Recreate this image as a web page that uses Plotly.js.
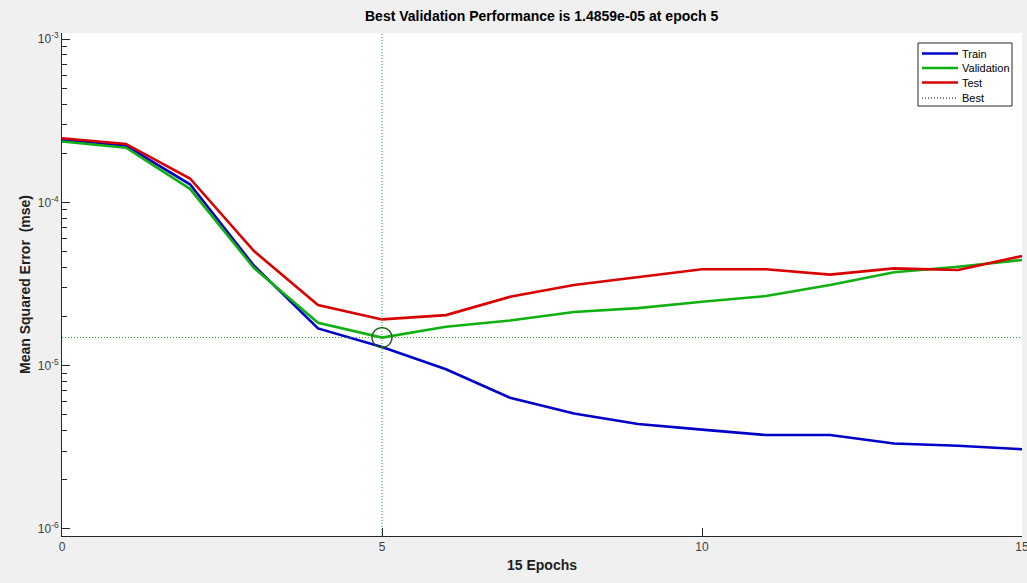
<!DOCTYPE html>
<html>
<head>
<meta charset="utf-8">
<script src="https://cdn.plot.ly/plotly-3.0.1.min.js"></script>
<style>
  html, body { margin: 0; padding: 0; background: #f0f0f0; }
  #chart { width: 1027px; height: 583px; }
</style>
</head>
<body>
<div id="chart"></div>
<script>
// Training record: mean squared error per epoch
const epochs = [0, 1, 2, 3, 4, 5, 6, 7, 8, 9, 10, 11, 12, 13, 14, 15];
const trainPerf = [2.43e-4, 2.22e-4, 1.29e-4, 4.09e-5, 1.69e-5, 1.30e-5, 9.5e-6, 6.36e-6,
                   5.10e-6, 4.39e-6, 4.06e-6, 3.76e-6, 3.76e-6, 3.34e-6, 3.23e-6, 3.08e-6];
const valPerf = [2.36e-4, 2.16e-4, 1.21e-4, 3.96e-5, 1.83e-5, 1.4859e-5, 1.73e-5, 1.89e-5,
                 2.13e-5, 2.25e-5, 2.46e-5, 2.67e-5, 3.12e-5, 3.73e-5, 4.03e-5, 4.44e-5];
const testPerf = [2.47e-4, 2.28e-4, 1.40e-4, 5.03e-5, 2.35e-5, 1.92e-5, 2.04e-5, 2.64e-5,
                  3.12e-5, 3.50e-5, 3.89e-5, 3.89e-5, 3.61e-5, 3.94e-5, 3.85e-5, 4.69e-5];
const bestEpoch = 5;
const bestPerf = 1.4859e-5;
const seriesNames = ['Train', 'Validation', 'Test', 'Best'];
const seriesColors = ['#0000c8', '#10b010', '#d80000', '#000000'];
const xTickVals = [0, 5, 10, 15];
const yDecades = [-6, -5, -4, -3];

const FONT = 'Liberation Sans, Arial, Helvetica, sans-serif';
const AXIS = '#262626';
const BEST_GREEN = '#1ea01e';

// major ticks at each decade, minor ticks at 2..9 within each decade
const yTickVals = yDecades.map(function (d) { return Math.pow(10, d); });
const yTickText = yDecades.map(function (d) { return '10<sup>' + d + '</sup>'; });
const yMinorVals = [];
yDecades.forEach(function (d) {
  for (let m = 2; m <= 9; m++) yMinorVals.push(m * Math.pow(10, d));
});

const perfSeries = [trainPerf, valPerf, testPerf];
const traces = perfSeries.map(function (vals, i) {
  return { x: epochs, y: vals, name: seriesNames[i], mode: 'lines',
           line: { color: seriesColors[i], width: 2.6 }, showlegend: false };
});
// circle marking the best validation point
traces.push({ x: [bestEpoch], y: [bestPerf], mode: 'markers', showlegend: false,
  marker: { symbol: 'circle-open', size: 20, color: '#145c14', line: { width: 1.3, color: '#145c14' } } });

// best-epoch guide lines
const shapes = [
  { type: 'line', xref: 'x', yref: 'paper', x0: bestEpoch, x1: bestEpoch, y0: 0, y1: 1,
    line: { color: BEST_GREEN, width: 1, dash: '1px,2px' } },
  { type: 'line', xref: 'paper', yref: 'y', x0: 0, x1: 1, y0: bestPerf, y1: bestPerf,
    line: { color: BEST_GREEN, width: 1, dash: '1px,2px' } }
];
const annotations = [];

// legend box, drawn in paper space at the top right of the axes
const plotL = 62, plotR = 1022, plotT = 33, plotB = 536;
const px = function (v) { return (v - plotL) / (plotR - plotL); };
const py = function (v) { return (plotB - v) / (plotB - plotT); };
const legL = 918, legR = 1012, legT = 43, legB = 106;
shapes.push({ type: 'rect', xref: 'paper', yref: 'paper', x0: px(legL), x1: px(legR), y0: py(legB), y1: py(legT),
  fillcolor: '#ffffff', line: { color: AXIS, width: 1 }, layer: 'above' });
const legRows = [53.5, 68, 82.5, 98];
seriesNames.forEach(function (name, i) {
  const isBest = i === 3;
  shapes.push({ type: 'line', xref: 'paper', yref: 'paper', x0: px(922), x1: px(958), y0: py(legRows[i]), y1: py(legRows[i]),
    line: { color: seriesColors[i], width: isBest ? 1 : 2.6, dash: isBest ? '1px,2px' : 'solid' }, layer: 'above' });
  annotations.push({ xref: 'paper', yref: 'paper', x: px(960), y: py(legRows[i]), xanchor: 'left', yanchor: 'middle',
    text: name, showarrow: false, font: { family: FONT, size: 11, color: '#000000' } });
});

const layout = {
  width: 1027,
  height: 583,
  paper_bgcolor: '#f0f0f0',
  plot_bgcolor: '#ffffff',
  margin: { l: 62, r: 5, t: 33, b: 47 },
  font: { family: FONT, color: AXIS, size: 12 },
  showlegend: false,
  title: {
    text: 'Best Validation Performance is ' + bestPerf.toExponential(4).replace('e-', 'e-0') + ' at epoch ' + bestEpoch,
    font: { family: FONT, size: 14, color: '#000000', weight: 'bold' },
    x: 0.5274, xanchor: 'center', y: 0.972, yanchor: 'middle'
  },
  xaxis: {
    range: [0, 15],
    tickvals: xTickVals,
    ticks: 'inside', ticklen: 8, tickwidth: 1, tickcolor: AXIS,
    ticklabeloverflow: 'allow',
    showline: true, linecolor: AXIS, linewidth: 1,
    showgrid: false, zeroline: false,
    tickfont: { family: FONT, size: 12, color: '#404040' },
    title: { text: '15 Epochs', font: { family: FONT, size: 14, color: '#202020', weight: 'bold' }, standoff: 6 }
  },
  yaxis: {
    type: 'log',
    range: [-6.043, -2.963],
    tickmode: 'array',
    tickvals: yTickVals,
    ticktext: yTickText,
    ticks: 'inside', ticklen: 8, tickwidth: 1, tickcolor: AXIS,
    minor: { ticks: 'inside', ticklen: 5, tickwidth: 1, tickcolor: AXIS, tickmode: 'array', tickvals: yMinorVals, showgrid: false },
    showline: true, linecolor: AXIS, linewidth: 1,
    showgrid: false, zeroline: false,
    tickfont: { family: FONT, size: 12, color: '#404040' },
    title: { text: 'Mean Squared Error\u00a0\u00a0(mse)', font: { family: FONT, size: 14, color: '#202020', weight: 'bold' }, standoff: 3 }
  },
  shapes: shapes,
  annotations: annotations
};

Plotly.newPlot('chart', traces, layout, { displayModeBar: false, staticPlot: true });
</script>
</body>
</html>
